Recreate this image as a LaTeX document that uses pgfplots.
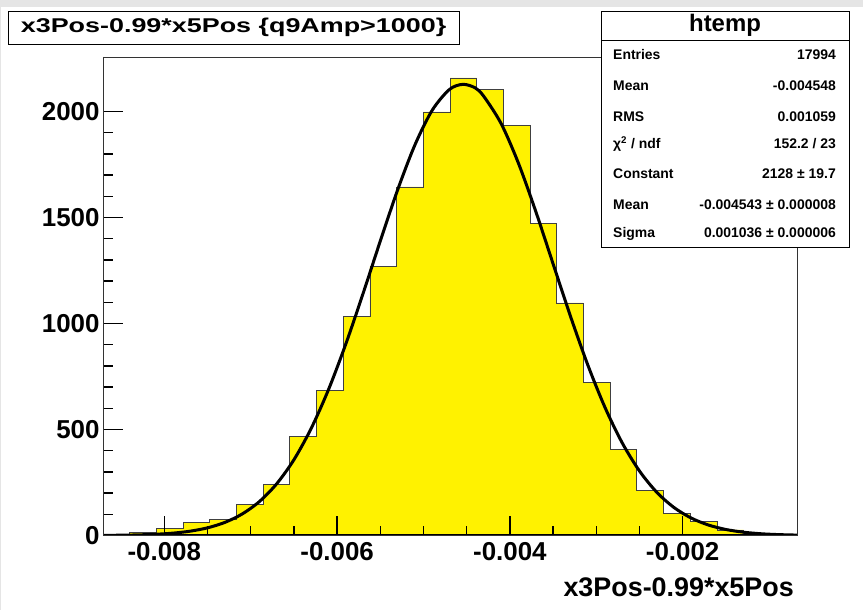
\documentclass[border=0pt]{standalone}
\usepackage{pgfplots}
\pgfplotsset{compat=1.18}
\usepackage{fontspec}
\setmainfont{Liberation Sans}
\usepackage{graphicx}

\pgfplotstableread{
x n
-0.008710 2
-0.008401 13
-0.008092 32
-0.007783 62
-0.007474 74
-0.007165 145
-0.006856 242
-0.006547 468
-0.006238 684
-0.005929 1032
-0.005620 1270
-0.005311 1644
-0.005002 1998
-0.004693 2158
-0.004384 2106
-0.004075 1934
-0.003766 1471
-0.003457 1097
-0.003148 722
-0.002839 408
-0.002530 214
-0.002221 104
-0.001912 67
-0.001603 26
-0.001294 10
-0.000985 7
-0.000676 7
}\histtable

\pgfplotstableread{
x f
-0.00870 0.7
-0.00850 1.5
-0.00830 3.0
-0.00810 5.9
-0.00790 11.2
-0.00770 20.5
-0.00750 36.2
-0.00730 61.7
-0.00710 101.2
-0.00690 159.9
-0.00670 243.6
-0.00650 357.3
-0.00630 505.2
-0.00610 687.8
-0.00590 902.5
-0.00570 1140.6
-0.00550 1388.9
-0.00530 1629.4
-0.00510 1841.6
-0.00490 2005.2
-0.00470 2103.7
-0.004543 2128.0
-0.00440 2111.0
-0.00430 2070.3
-0.00410 1942.0
-0.00390 1755.2
-0.00370 1528.4
-0.00350 1281.9
-0.00330 1035.9
-0.00310 806.7
-0.00290 605.2
-0.00270 437.3
-0.00250 304.5
-0.00230 204.2
-0.00210 132.0
-0.00190 82.2
-0.00170 49.3
-0.00150 28.5
-0.00130 15.9
-0.00110 8.5
-0.00090 4.4
-0.000676 2.0
}\fittable

\begin{document}
\begin{tikzpicture}[x=1bp,y=1bp]
\path[use as bounding box, fill=white] (0,0) rectangle (863,-610);
\fill[black!10] (0,0) rectangle (863,-7);
\fill[black!10] (0,-7) rectangle (1.5,-610);
\begin{axis}[
  at={(103bp,-535.5bp)}, anchor=south west,
  scale only axis, width=694bp, height=478.5bp,
  xmin=-0.00871, xmax=-0.000676, ymin=0, ymax=2257,
  axis on top,
  xtick={-0.008,-0.006,-0.004,-0.002},
  xticklabels={-0.008,-0.006,-0.004,-0.002},
  ytick={0,500,1000,1500,2000},
  yticklabels={0,500,1000,1500,2000},
  minor x tick num=3, minor y tick num=4,
  xtick pos=bottom, ytick pos=left,
  tick align=inside,
  major tick length=20bp, minor tick length=10bp,
  every tick/.style={black, line width=1.4bp},
  axis line style={line width=0.8bp, black!80},
  tick label style={font=\fontsize{26}{26}\selectfont\bfseries},
  xticklabel style={yshift=-3bp},
  scaled x ticks=false, scaled y ticks=false,
]
\addplot[const plot, fill=yellow, draw=none] table[x=x,y=n] {\histtable} \closedcycle;
\addplot[const plot, draw=black!75, line width=0.8bp] table[x=x,y=n] {\histtable};
\addplot[smooth, black, line width=3bp] table[x=x,y=f] {\fittable};
\draw[black, line width=2.4bp] (rel axis cs:0,1) -- (rel axis cs:0,0) -- (rel axis cs:1,0);
\end{axis}
% title box
\node[draw=black, line width=0.8bp, fill=white, minimum width=451bp, minimum height=33bp, inner sep=0pt] at (233.6,-27.5)
  {\scalebox{1.35}[1]{\fontsize{20}{20}\selectfont\bfseries x3Pos-0.99*x5Pos \{q9Amp>1000\}}};
% x label
\node[anchor=base east, inner sep=0pt, font=\fontsize{27}{27}\selectfont\bfseries] at (794,-596) {x3Pos-0.99*x5Pos};
% stats box
\draw[fill=white, line width=0.8bp] (601,-11) rectangle (849,-247);
\draw[line width=0.8bp] (601,-40) -- (849,-40);
\node[font=\fontsize{24}{24}\selectfont\bfseries, inner sep=0pt] at (725,-25.5) {htemp};
\begin{scope}[every node/.style={inner sep=0pt, font=\fontsize{14}{14}\selectfont\bfseries}]
\node[anchor=base west] at (613,-60) {Entries};
\node[anchor=base east] at (836,-60) {17994};
\node[anchor=base west] at (613,-91) {Mean};
\node[anchor=base east] at (836,-91) {-0.004548};
\node[anchor=base west] at (613,-121.7) {RMS};
\node[anchor=base east] at (836,-121.7) {0.001059};
\node[anchor=base west] at (613,-149) {χ\textsuperscript{2} / ndf};
\node[anchor=base east] at (836,-149) {152.2 / 23};
\node[anchor=base west] at (613,-179) {Constant};
\node[anchor=base east] at (836,-179) {2128 ± 19.7};
\node[anchor=base west] at (613,-210) {Mean};
\node[anchor=base east] at (836,-210) {-0.004543 ± 0.000008};
\node[anchor=base west] at (613,-237.7) {Sigma};
\node[anchor=base east] at (836,-237.7) {0.001036 ± 0.000006};
\end{scope}
\end{tikzpicture}
\end{document}
